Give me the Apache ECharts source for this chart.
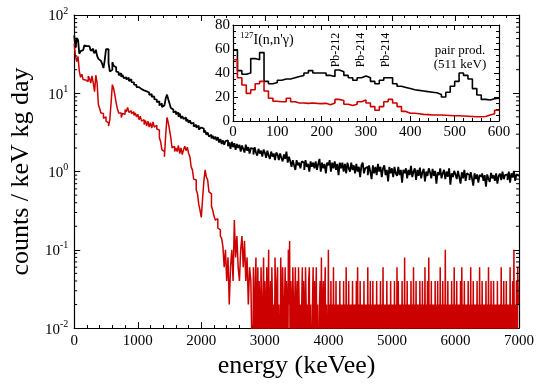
<!DOCTYPE html>
<html>
<head>
<meta charset="utf-8">
<script src="https://cdn.jsdelivr.net/npm/echarts@6/dist/echarts.min.js"></script>
<style>
  html, body { margin: 0; padding: 0; background: #fff; }
  #main { width: 545px; height: 384px; }
</style>
</head>
<body>
<div id="main"></div>
<script>
// main spectrum, 20 keV bins starting at 0 keV
const binMain = 20;
const blackMain = [
  55, 38, 51, 48, 32, 34.5, 35.5, 37.5, 41, 40,
  39, 40, 39.5, 35, 37, 34.5, 32.5, 36, 30, 27.5,
  26, 24.8, 23.8, 21, 26.5, 36.5, 36.5, 24.5, 19, 20,
  25, 22.5, 21.5, 19, 18.5, 17, 18, 16.2, 17.2, 15.6,
  16, 15, 15.8, 14.3, 15.1, 13.9, 13.8, 12.9, 12.8, 12.0,
  12.0, 11.4, 11.3, 10.9, 10.9, 10.4, 10.6, 10.0, 10.2, 9.5,
  9.8, 9.0, 9.1, 8.4, 8.3, 7.7, 7.9, 7.0, 7.4, 6.7,
  7.0, 7.2, 8.6, 9.6, 8.4, 7.4, 6.5, 6.2, 5.7, 5.9,
  5.4, 5.7, 5.0, 5.5, 4.8, 5.1, 4.7, 4.9, 4.4, 4.7,
  4.2, 4.5, 4.1, 4.2, 3.75, 3.95, 3.65, 3.85, 3.45, 3.65,
  3.45, 3.55, 3.15, 3.35, 2.95, 3.15, 2.8, 2.95, 2.65, 2.85,
  2.6, 2.8, 2.5, 2.75, 2.35, 2.6, 2.25, 2.5, 2.2, 2.45,
  2.5, 2.1, 2.35, 1.95, 2.4, 2.05, 2.3, 1.9, 2.25, 2.0,
  2.2, 1.8, 2.15, 1.95, 1.75, 2.2, 1.85, 2.05, 1.7, 2.0,
  1.95, 1.65, 2.05, 1.75, 1.6, 1.95, 1.7, 1.85, 1.55, 1.9,
  1.75, 1.5, 1.85, 1.6, 1.45, 1.8, 1.55, 1.7, 1.4, 1.75,
  1.65, 1.4, 1.7, 1.5, 1.35, 1.65, 1.45, 1.8, 1.3, 1.55,
  1.35, 1.15, 1.4, 1.2, 1.05, 1.4, 1.2, 1.3, 1.1, 1.35,
  1.3, 1.05, 1.4, 1.15, 1.25, 1.0, 1.35, 1.15, 1.3, 1.1,
  1.35, 1.05, 1.25, 1.45, 1.0, 1.3, 1.1, 1.25, 0.95, 1.3,
  1.2, 1.4, 1.0, 1.3, 1.1, 1.35, 1.05, 1.25, 0.9, 1.3,
  1.1, 1.3, 1.0, 1.25, 0.95, 1.3, 1.1, 1.0, 1.3, 1.05,
  1.2, 0.95, 1.25, 1.0, 1.15, 0.85, 1.2, 1.3, 0.95, 1.1,
  1.15, 0.9, 1.2, 1.0, 0.8, 1.2, 0.95, 1.15, 0.9, 1.25,
  1.0, 1.15, 0.85, 1.1, 1.2, 0.9, 1.05, 0.75, 1.15, 0.95,
  1.1, 0.85, 1.15, 0.95, 0.88, 1.15, 0.9, 1.05, 0.72, 1.05,
  0.95, 1.1, 0.82, 1.05, 0.9, 1.18, 0.85, 1.0, 1.1, 0.78,
  1.05, 0.88, 1.12, 0.82, 0.98, 1.08, 0.75, 1.0, 0.88, 1.1,
  0.98, 0.82, 1.08, 0.88, 1.02, 0.7, 0.98, 0.9, 1.1, 0.82,
  0.95, 1.05, 0.8, 1.0, 0.86, 1.1, 0.68, 0.95, 0.85, 1.02,
  0.92, 0.8, 1.02, 0.85, 0.7, 0.98, 0.82, 1.05, 0.76, 0.95,
  0.9, 0.78, 0.98, 0.82, 0.66, 0.95, 0.8, 0.92, 0.72, 0.9,
  0.86, 0.95, 0.76, 0.9, 0.64, 0.92, 0.8, 0.74, 0.96, 0.82,
  0.9, 0.76, 0.95, 0.7, 0.88, 0.94, 0.78, 1.0, 0.8, 0.9,
  0.92, 0.78, 1.0, 0.72, 0.95, 0.84, 1.02, 0.76, 0.92, 0.88
];
// red spectrum 0-2800 keV, 20 keV bins
const redMain = [
  43, 29.5, 25.5, 29.5, 19, 16, 17.5, 15, 14.8, 14.6,
  14.1, 16.5, 15.5, 13.5, 16.7, 13.5, 10.5, 17, 13.5, 7.2,
  6.4, 5.6, 5.5, 4.8, 5.0, 4.4, 4.2, 3.8, 4.6, 7.5,
  12.9, 11.5, 9.5, 7.5, 6.3, 5.6, 5.6, 4.9, 5.5, 5.4,
  6.2, 5.8, 6.6, 5.7, 6.0, 5.5, 5.8, 5.2, 5.6, 5.0,
  5.4, 4.6, 5.1, 4.4, 4.6, 4.0, 4.5, 3.8, 4.4, 3.7,
  4.2, 3.6, 4.3, 3.7, 3.9, 3.5, 3.4, 2.7, 2.4, 1.9,
  1.8, 1.55, 3.0, 4.9, 4.2, 3.4, 2.7, 2.0, 2.1, 1.8,
  2.0, 1.8, 2.15, 1.7, 2.0, 1.65, 1.9, 2.1, 1.85, 2.05,
  1.7, 1.55, 1.15, 1.05, 0.8, 0.78, 0.58, 0.52, 0.38, 0.32,
  0.26, 0.45, 0.75, 1.05, 0.85, 0.78, 0.55, 0.52, 0.36, 0.32,
  0.27, 0.24, 0.25, 0.19, 0.18, 0.15, 0.14, 0.11, 0.06, 0.1,
  0.04, 0.08, 0.02, 0.06, 0.1, 0.04, 0.24, 0.08, 0.15, 0.06,
  0.04, 0.1, 0.15, 0.06, 0.13, 0.04, 0.08, 0.02, 0.06, 0.04
];
// red tail 2800-7000 keV, 10 keV bins (0 = empty bin)
const tailStart = 2800;
const binTail = 10;
const redTail = [
  0.04, 0, 0.06, 0.02, 0, 0.04, 0.08, 0, 0.02, 0.06,
  0, 0.04, 0.02, 0, 0.06, 0.02, 0, 0.02, 0.08, 0,
  0.04, 0.02, 0, 0.06, 0, 0.02, 0.1, 0, 0.02, 0.04,
  0, 0.06, 0.02, 0, 0.02, 0, 0.08, 0.02, 0, 0.04,
  0.06, 0, 0.02, 0.02, 0, 0.08, 0.02, 0, 0.06, 0.02,
  0, 0.02, 0.06, 0, 0.04, 0.02, 0, 0.1, 0.02, 0.13,
  0, 0.04, 0.02, 0, 0.06, 0.02, 0, 0.02, 0.06, 0,
  0.02, 0.04, 0, 0.06, 0.02, 0, 0.02, 0, 0.02, 0.06,
  0, 0.04, 0.02, 0, 0.06, 0.02, 0, 0.02, 0, 0.04,
  0.06, 0, 0.02, 0.02, 0, 0.02, 0.06, 0, 0.04, 0,
  0.02, 0.06, 0, 0.02, 0.02, 0, 0.02, 0.04, 0, 0.08,
  0, 0.02, 0.04, 0, 0.02, 0.06, 0, 0.02, 0.02, 0,
  0.1, 0, 0.02, 0, 0.04, 0, 0.02, 0, 0.06, 0,
  0.02, 0, 0.04, 0, 0.02, 0, 0.02, 0, 0.04, 0,
  0.02, 0, 0.02, 0, 0.04, 0, 0.02, 0, 0.06, 0,
  0.02, 0, 0.04, 0, 0.02, 0, 0.02, 0, 0.04, 0,
  0.02, 0, 0.02, 0, 0.04, 0, 0.06, 0, 0.02, 0,
  0.04, 0, 0.02, 0, 0.02, 0, 0.04, 0, 0.02, 0,
  0.02, 0, 0.06, 0, 0.02, 0, 0.04, 0, 0.02, 0,
  0.04, 0, 0.02, 0, 0.02, 0, 0.04, 0, 0.02, 0,
  0.02, 0, 0.04, 0, 0.02, 0, 0.06, 0, 0.02, 0,
  0.02, 0, 0.04, 0, 0.02, 0, 0.02, 0, 0.04, 0,
  0.02, 0, 0.02, 0, 0.04, 0, 0.02, 0, 0.06, 0,
  0.04, 0, 0.02, 0, 0.02, 0, 0.04, 0, 0.02, 0,
  0.08, 0, 0.02, 0, 0.04, 0, 0.02, 0, 0.02, 0,
  0.04, 0, 0.02, 0, 0.06, 0, 0.02, 0, 0.04, 0,
  0.02, 0, 0.02, 0, 0.04, 0, 0.02, 0, 0.04, 0,
  0.02, 0, 0.06, 0, 0.02, 0, 0.04, 0, 0.08, 0,
  0.02, 0, 0.04, 0, 0.02, 0, 0.02, 0, 0.04, 0,
  0.02, 0, 0.04, 0, 0.02, 0, 0.06, 0, 0.02, 0,
  0.04, 0, 0.02, 0, 0.1, 0, 0.02, 0, 0.04, 0,
  0.02, 0, 0.02, 0, 0.04, 0, 0.02, 0, 0.06, 0,
  0.02, 0, 0.04, 0, 0.02, 0, 0.02, 0, 0.04, 0,
  0.06, 0, 0.02, 0, 0.04, 0, 0.02, 0, 0.02, 0,
  0.04, 0, 0.02, 0, 0.06, 0, 0.02, 0, 0.04, 0,
  0.02, 0, 0.02, 0, 0.04, 0, 0.02, 0, 0.06, 0,
  0.02, 0, 0.04, 0, 0.02, 0, 0.02, 0, 0.04, 0,
  0.02, 0, 0.06, 0, 0.02, 0, 0.04, 0, 0.02, 0,
  0.04, 0, 0.02, 0, 0.02, 0, 0.04, 0, 0.02, 0,
  0.02, 0, 0.06, 0, 0.02, 0, 0.04, 0, 0.02, 0,
  0.04, 0, 0.02, 0, 0.02, 0, 0.06, 0, 0.02, 0,
  0.04, 0, 0.1, 0, 0.02, 0, 0.04, 0, 0.06, 0.02
];

// inset spectrum, 10 keV bins, 0-600 keV
const binInset = 10;
const blackInset = [
  59, 42, 39, 40, 52, 51, 57, 33, 31, 32,
  34, 35, 35, 36, 37, 38, 40, 42, 40, 40,
  40, 38, 37, 42.5, 41, 38, 36, 34, 36, 37.5,
  36, 33, 31, 34, 36, 36, 31, 29, 28, 27,
  26, 25.5, 25, 24.5, 24, 23.5, 22, 20, 24, 29,
  33, 40, 38, 35, 27, 21.7, 18, 17.5, 18.5, 19
];
const redInset = [
  51, 36, 30, 23, 26, 31, 33, 25, 19, 16.5,
  16, 16, 19, 16, 15, 15, 14.7, 15, 14.7, 14.5,
  14.7, 13.5, 15, 18, 17, 14, 13, 14, 16, 17.5,
  15, 12, 9, 12, 16, 18, 15, 12, 8, 6.4,
  6.4, 6, 5.5, 5.3, 5, 5, 5, 4.8, 4.6, 4.4,
  4.4, 4.2, 4.0, 3.8, 3.6, 3.6, 3.8, 5, 6, 9
];

const logMinorTicks = [
  0.02, 0.03, 0.04, 0.05, 0.06, 0.07, 0.08, 0.09,
  0.2, 0.3, 0.4, 0.5, 0.6, 0.7, 0.8, 0.9,
  2, 3, 4, 5, 6, 7, 8, 9,
  20, 30, 40, 50, 60, 70, 80, 90
];

const FONT = 'Liberation Serif';
const RED = '#cc0000';
const EMPTY = 0.001; // empty bins drawn below the log axis floor

function steps(vals, width, start, floor) {
  const pts = vals.map((v, i) => [start + i * width, (floor && v <= 0) ? floor : v]);
  pts.push([start + vals.length * width, pts[pts.length - 1][1]]);
  return pts;
}

function boxAxis(grid, pos, extra) {
  return Object.assign({
    gridIndex: grid,
    position: pos,
    axisLine: { show: true, onZero: false, lineStyle: { color: '#000', width: 1.2 } },
    axisTick: { show: true, inside: true, length: 6, lineStyle: { color: '#000', width: 1 } },
    splitLine: { show: false },
    axisLabel: { show: false }
  }, extra);
}

const labelStyle = { color: '#000', fontFamily: FONT, fontSize: 15, formatter: v => String(v) };

var chart = echarts.init(document.getElementById('main'));

option = {
  backgroundColor: '#fff',
  animation: false,
  textStyle: { fontFamily: FONT },
  grid: [
    { left: 66, top: 15, width: 453, height: 315 },
    { left: 233, top: 25, width: 266, height: 96, show: true, backgroundColor: '#fff', borderWidth: 0, z: 5 }
  ],
  xAxis: [
    boxAxis(0, 'bottom', {
      type: 'value', min: 0, max: 7000, interval: 1000,
      minorTick: { show: true, splitNumber: 5, length: 3, lineStyle: { color: '#000' } },
      axisLabel: Object.assign({ show: true, margin: 5 }, labelStyle),
      name: 'energy (keVee)', nameLocation: 'middle', nameGap: 17,
      nameTextStyle: { color: '#000', fontFamily: FONT, fontSize: 26 }
    }),
    boxAxis(0, 'top', {
      type: 'value', min: 0, max: 7000, interval: 1000,
      minorTick: { show: true, splitNumber: 5, length: 3, lineStyle: { color: '#000' } }
    }),
    boxAxis(1, 'bottom', {
      type: 'value', min: 0, max: 600, interval: 100, z: 6,
      axisTick: { show: true, inside: true, length: 5, lineStyle: { color: '#000' } },
      minorTick: { show: true, splitNumber: 5, length: 3, lineStyle: { color: '#000' } },
      axisLabel: Object.assign({ show: true, margin: 4 }, labelStyle)
    }),
    boxAxis(1, 'top', {
      type: 'value', min: 0, max: 600, interval: 100, z: 6,
      axisTick: { show: true, inside: true, length: 5, lineStyle: { color: '#000' } },
      minorTick: { show: true, splitNumber: 5, length: 3, lineStyle: { color: '#000' } }
    })
  ],
  yAxis: [
    boxAxis(0, 'left', {
      type: 'log', logBase: 10, min: 0.01, max: 100, splitNumber: 4,
      axisLabel: {
        show: true, margin: 6,
        formatter: function (v) {
          return '{b|10}{s|' + Math.round(Math.log10(v)) + '}';
        },
        rich: {
          b: { color: '#000', fontFamily: FONT, fontSize: 15, lineHeight: 18, verticalAlign: 'bottom' },
          s: { color: '#000', fontFamily: FONT, fontSize: 10, lineHeight: 18, verticalAlign: 'top' }
        }
      },
      name: 'counts / keV kg day', nameLocation: 'middle', nameGap: 35, nameRotate: 90,
      nameTextStyle: { color: '#000', fontFamily: FONT, fontSize: 26 }
    }),
    boxAxis(0, 'right', { type: 'log', logBase: 10, min: 0.01, max: 100, splitNumber: 4 }),
    boxAxis(1, 'left', {
      type: 'value', min: 0, max: 80, interval: 20, z: 6,
      axisTick: { show: true, inside: true, length: 5, lineStyle: { color: '#000' } },
      minorTick: { show: true, splitNumber: 4, length: 3, lineStyle: { color: '#000' } },
      axisLabel: Object.assign({ show: true, margin: 3 }, labelStyle)
    }),
    boxAxis(1, 'right', {
      type: 'value', min: 0, max: 80, interval: 20, z: 6,
      axisTick: { show: true, inside: true, length: 5, lineStyle: { color: '#000' } },
      minorTick: { show: true, splitNumber: 4, length: 3, lineStyle: { color: '#000' } }
    })
  ],
  series: [
    {
      name: 'all', type: 'line', step: 'end', xAxisIndex: 0, yAxisIndex: 0,
      showSymbol: false, z: 3, lineStyle: { color: '#000', width: 1.8 },
      data: steps(blackMain, binMain, 0)
    },
    {
      name: 'cut', type: 'line', step: 'end', xAxisIndex: 0, yAxisIndex: 0,
      showSymbol: false, z: 4, lineStyle: { color: RED, width: 1.5 },
      data: steps(redMain, binMain, 0, EMPTY).concat(steps(redTail, binTail, tailStart, EMPTY))
    },
    {
      type: 'line', step: 'end', xAxisIndex: 2, yAxisIndex: 2,
      showSymbol: false, z: 7, lineStyle: { color: '#000', width: 1.6 },
      data: steps(blackInset, binInset, 0)
    },
    {
      type: 'line', step: 'end', xAxisIndex: 2, yAxisIndex: 2,
      showSymbol: false, z: 7, lineStyle: { color: RED, width: 1.6 },
      data: steps(redInset, binInset, 0)
    },
    // minor ticks of the log axis (left and right)
    {
      type: 'custom', xAxisIndex: 0, yAxisIndex: 0, z: 8, clip: false, silent: true,
      data: logMinorTicks.map(v => [0, v]),
      renderItem: function (params, api) {
        const a = api.coord([0, api.value(1)]);
        const b = api.coord([7000, api.value(1)]);
        return {
          type: 'group', children: [
            { type: 'line', shape: { x1: a[0], y1: a[1], x2: a[0] + 3, y2: a[1] }, style: { stroke: '#000', lineWidth: 1 } },
            { type: 'line', shape: { x1: b[0] - 3, y1: b[1], x2: b[0], y2: b[1] }, style: { stroke: '#000', lineWidth: 1 } }
          ]
        };
      }
    }
  ],
  graphic: [
    {
      type: 'text', left: 240, top: 31, z: 100,
      style: {
        text: '{s|127}{b|I(n,n\'γ)}',
        rich: {
          s: { fontFamily: FONT, fontSize: 9, fill: '#000', verticalAlign: 'top', lineHeight: 16 },
          b: { fontFamily: FONT, fontSize: 14, fill: '#000', verticalAlign: 'bottom', lineHeight: 16 }
        }
      }
    },
    { type: 'text', x: 336, y: 50, rotation: Math.PI / 2, z: 100,
      style: { text: 'Pb-212', fontFamily: FONT, fontSize: 12, fill: '#000', align: 'center', verticalAlign: 'middle' } },
    { type: 'text', x: 361, y: 50, rotation: Math.PI / 2, z: 100,
      style: { text: 'Pb-214', fontFamily: FONT, fontSize: 12, fill: '#000', align: 'center', verticalAlign: 'middle' } },
    { type: 'text', x: 386, y: 50, rotation: Math.PI / 2, z: 100,
      style: { text: 'Pb-214', fontFamily: FONT, fontSize: 12, fill: '#000', align: 'center', verticalAlign: 'middle' } },
    { type: 'text', x: 460, y: 51, z: 100,
      style: { text: 'pair prod.', fontFamily: FONT, fontSize: 13, fill: '#000', align: 'center', verticalAlign: 'middle' } },
    { type: 'text', x: 460, y: 65, z: 100,
      style: { text: '(511 keV)', fontFamily: FONT, fontSize: 13, fill: '#000', align: 'center', verticalAlign: 'middle' } }
  ]
};

chart.setOption(option);

window.onresize = function () {
  chart.resize();
};
</script>
</body>
</html>
